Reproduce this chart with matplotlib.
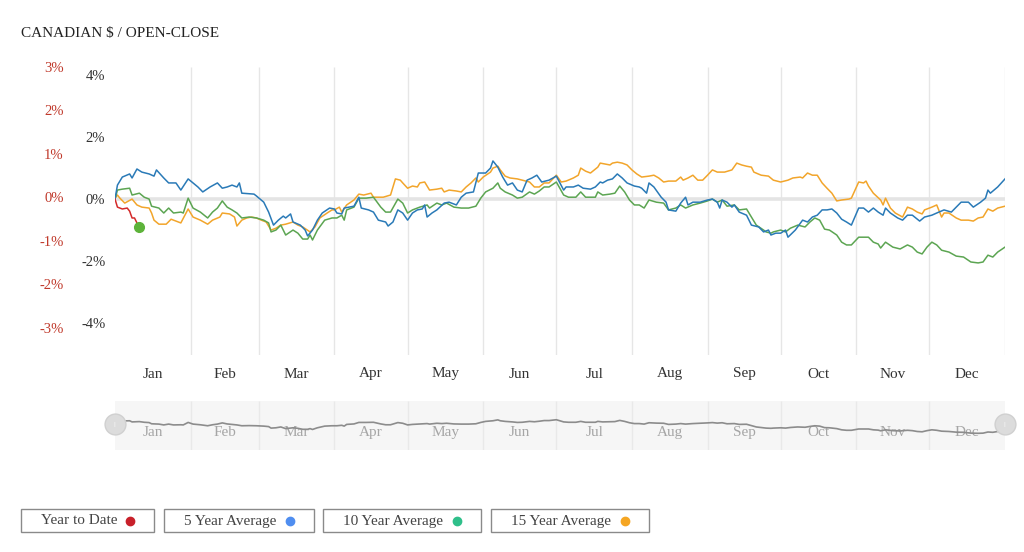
import numpy as np
import matplotlib.pyplot as plt
import matplotlib.transforms as mtransforms
from matplotlib.patches import Rectangle

plt.rcParams["font.family"] = ["Liberation Serif", "DejaVu Serif"]

# month labels and month boundaries (day of year)
months = ["Jan", "Feb", "Mar", "Apr", "May", "Jun",
          "Jul", "Aug", "Sep", "Oct", "Nov", "Dec"]
month_starts = [0, 31, 59, 90, 120, 151, 181, 212, 243, 273, 304, 334, 365]

# left (black) and outer (red) axis ticks
black_ticks = [-4, -2, 0, 2, 4]
red_ticks = [-3, -2, -1, 0, 1, 2, 3]

# Year to date
ytd_day = [0, 1, 3, 5, 6, 7, 8, 9, 10]
ytd_val = [0.0, -0.26, -0.32, -0.29, -0.39, -0.61, -0.61, -0.77, -0.90]

# 5 year average
avg5_day = [0, 1, 3, 6, 7, 9, 11, 14, 16, 17, 20, 22, 25, 27, 30, 32, 34, 36, 39, 42,
            44, 46, 48, 50, 51, 52, 57, 58, 61, 63, 65, 67, 69, 70, 72, 73, 76, 78, 79, 81,
            83, 85, 88, 90, 91, 93, 94, 98, 100, 101, 104, 106, 108, 111, 112, 114, 116, 118, 120, 122,
            124, 126, 127, 128, 130, 132, 135, 137, 140, 142, 144, 147, 149, 152, 154, 155, 157, 159, 161, 163,
            165, 167, 169, 171, 173, 175, 178, 181, 184, 185, 188, 190, 192, 195, 197, 199, 200, 202, 204, 206,
            208, 210, 213, 215, 216, 218, 219, 221, 224, 226, 227, 230, 232, 234, 235, 237, 240, 243, 245, 247,
            248, 249, 251, 253, 254, 256, 259, 261, 264, 266, 268, 269, 271, 273, 275, 276, 279, 282, 284, 286,
            288, 290, 292, 294, 296, 298, 300, 302, 305, 307, 309, 311, 313, 315, 316, 318, 321, 323, 325, 327,
            330, 332, 335, 337, 340, 343, 345, 347, 350, 352, 355, 357, 358, 359, 362, 365]
avg5_val = [0.0, 0.45, 0.71, 0.81, 0.68, 0.97, 0.87, 0.81, 0.74, 0.94, 0.68, 0.52, 0.52, 0.29, 0.65, 0.52, 0.39, 0.23, 0.39, 0.52,
            0.35, 0.39, 0.45, 0.39, 0.52, 0.19, 0.16, 0.10, -0.10, -0.42, -0.84, -0.68, -0.55, -0.61, -0.48, -0.74, -0.84, -1.00, -1.19, -1.00,
            -0.68, -0.45, -0.29, -0.32, -0.45, -0.48, -0.29, -0.23, 0.06, -0.29, -0.35, -0.42, -0.68, -0.74, -0.87, -0.74, -0.35, -0.45, -0.68, -0.45,
            -0.35, -0.32, -0.19, -0.58, -0.45, -0.35, -0.13, -0.10, -0.19, 0.06, 0.19, 0.23, 0.84, 0.84, 1.00, 1.23, 1.03, 0.71, 0.45, 0.52,
            0.29, 0.23, 0.61, 0.68, 0.77, 0.55, 0.61, 0.74, 0.29, 0.39, 0.39, 0.45, 0.35, 0.32, 0.39, 0.55, 0.52, 0.61, 0.65, 0.81,
            0.68, 0.52, 0.42, 0.39, 0.35, 0.19, 0.52, 0.39, 0.06, -0.10, -0.35, -0.39, -0.13, 0.06, -0.19, -0.10, -0.10, -0.03, 0.00, -0.10,
            -0.29, -0.03, -0.10, -0.26, -0.19, -0.42, -0.52, -0.84, -0.90, -1.06, -1.00, -1.16, -1.10, -1.10, -1.00, -1.23, -1.00, -0.68, -0.74, -0.58,
            -0.52, -0.35, -0.35, -0.32, -0.45, -0.65, -0.74, -0.84, -0.29, -0.29, -0.42, -0.29, -0.42, -0.52, -0.29, -0.45, -0.61, -0.68, -0.52, -0.52,
            -0.71, -0.58, -0.52, -0.45, -0.35, -0.42, -0.26, -0.10, -0.10, -0.26, -0.10, 0.03, 0.29, 0.19, 0.39, 0.65]

# 10 year average
avg10_day = [0, 1, 3, 6, 7, 10, 12, 14, 15, 18, 20, 22, 24, 27, 28, 30, 32, 35, 38, 40,
             42, 44, 46, 48, 50, 52, 55, 58, 61, 63, 64, 66, 68, 70, 73, 75, 77, 79, 80, 81,
             83, 86, 89, 91, 93, 94, 95, 98, 100, 103, 106, 109, 111, 113, 116, 118, 120, 122, 125, 128,
             129, 132, 134, 136, 139, 142, 145, 148, 150, 152, 155, 157, 158, 160, 163, 165, 167, 170, 172, 174,
             176, 178, 181, 184, 186, 189, 191, 193, 197, 198, 200, 203, 205, 207, 209, 211, 213, 215, 217, 219,
             222, 225, 227, 230, 232, 234, 237, 240, 243, 245, 247, 249, 251, 254, 256, 259, 261, 263, 266, 267,
             269, 270, 273, 275, 277, 280, 283, 285, 287, 289, 291, 293, 296, 298, 300, 302, 305, 307, 309, 311,
             313, 314, 316, 319, 322, 325, 327, 329, 331, 333, 335, 337, 339, 342, 345, 348, 351, 354, 356, 358,
             360, 362, 365]
avg10_val = [0.0, 0.29, 0.32, 0.35, 0.13, 0.19, 0.06, 0.00, -0.23, -0.29, -0.45, -0.29, -0.45, -0.42, -0.45, 0.03, -0.29, -0.42, -0.61, -0.42,
             -0.29, -0.06, -0.26, -0.35, -0.45, -0.61, -0.58, -0.61, -0.68, -0.77, -1.06, -1.00, -0.84, -1.16, -1.00, -1.10, -1.29, -1.29, -1.16, -1.32,
             -1.00, -0.68, -0.61, -0.61, -0.52, -0.68, -0.35, -0.26, 0.03, 0.03, 0.06, -0.26, -0.42, -0.42, 0.00, -0.13, -0.45, -0.35, -0.26, -0.19,
             -0.29, -0.13, -0.19, -0.13, -0.26, -0.29, -0.29, -0.23, 0.03, 0.23, 0.35, 0.52, 0.35, 0.23, 0.13, 0.03, 0.06, 0.23, 0.16, 0.26,
             0.39, 0.39, 0.55, 0.13, 0.06, 0.06, 0.23, 0.06, 0.06, 0.23, 0.13, 0.16, 0.19, 0.42, 0.23, -0.03, -0.19, -0.19, -0.29, -0.03,
             -0.10, -0.13, -0.35, -0.29, -0.19, -0.29, -0.19, -0.13, -0.06, 0.00, -0.10, -0.03, -0.23, -0.19, -0.35, -0.32, -0.58, -0.84, -1.00, -1.06,
             -1.10, -1.06, -1.00, -1.06, -0.94, -0.84, -0.90, -0.74, -0.61, -0.68, -0.97, -1.00, -1.16, -1.39, -1.48, -1.48, -1.23, -1.23, -1.23, -1.39,
             -1.45, -1.58, -1.39, -1.55, -1.61, -1.48, -1.55, -1.71, -1.77, -1.55, -1.39, -1.48, -1.65, -1.71, -1.84, -1.87, -2.03, -2.06, -2.03, -1.81,
             -1.87, -1.71, -1.55]

# 15 year average
avg15_day = [0, 1, 2, 4, 7, 9, 11, 14, 15, 16, 18, 21, 23, 25, 27, 30, 32, 35, 38, 40,
             43, 44, 47, 49, 50, 52, 54, 56, 58, 60, 62, 64, 66, 68, 70, 73, 75, 77, 80, 82,
             84, 87, 89, 90, 92, 93, 95, 98, 100, 102, 105, 106, 108, 110, 113, 115, 117, 118, 120, 122,
             124, 125, 127, 129, 132, 134, 135, 137, 140, 142, 144, 146, 148, 149, 151, 154, 155, 157, 158, 160,
             162, 165, 167, 170, 172, 174, 176, 178, 181, 183, 185, 188, 190, 191, 193, 195, 198, 199, 201, 203,
             204, 206, 208, 210, 212, 214, 216, 219, 221, 223, 225, 227, 230, 232, 233, 235, 237, 239, 241, 243,
             245, 247, 250, 253, 255, 257, 259, 261, 262, 265, 268, 270, 273, 276, 278, 281, 282, 284, 286, 288,
             290, 292, 294, 296, 298, 301, 302, 305, 307, 308, 309, 311, 314, 315, 316, 318, 320, 323, 325, 327,
             329, 331, 332, 335, 337, 339, 340, 342, 345, 347, 350, 352, 354, 356, 358, 360, 362, 365]
avg15_val = [0.03, 0.13, 0.03, -0.13, 0.00, -0.19, -0.26, -0.29, -0.45, -0.68, -0.81, -0.81, -0.65, -0.71, -0.77, -0.32, -0.58, -0.68, -0.81, -0.68,
             -0.58, -0.45, -0.48, -0.58, -0.87, -0.68, -0.61, -0.58, -0.61, -0.68, -0.74, -1.00, -0.94, -0.84, -0.81, -0.74, -0.84, -0.90, -1.06, -0.90,
             -0.61, -0.45, -0.35, -0.35, -0.26, -0.42, -0.19, -0.03, 0.16, 0.13, 0.19, 0.06, 0.06, 0.06, 0.13, 0.65, 0.61, 0.52, 0.35, 0.42,
             0.39, 0.52, 0.55, 0.29, 0.32, 0.35, 0.23, 0.29, 0.26, 0.23, 0.39, 0.52, 0.68, 0.55, 0.71, 0.87, 1.00, 1.06, 0.94, 0.74,
             0.68, 0.65, 0.61, 0.55, 0.39, 0.39, 0.52, 0.52, 0.77, 0.55, 0.58, 0.68, 0.77, 1.00, 0.90, 0.84, 1.03, 1.16, 1.13, 1.10,
             1.16, 1.19, 1.16, 1.10, 0.94, 0.81, 0.71, 0.74, 0.77, 0.68, 0.55, 0.58, 0.58, 0.71, 0.61, 0.68, 0.77, 0.61, 0.61, 0.77,
             0.94, 0.87, 0.87, 0.94, 1.16, 1.10, 1.06, 1.03, 0.87, 0.77, 0.74, 0.61, 0.55, 0.61, 0.68, 0.71, 0.68, 0.84, 0.77, 0.77,
             0.52, 0.35, 0.19, -0.06, -0.03, 0.00, 0.03, 0.55, 0.52, 0.58, 0.42, 0.19, -0.03, -0.19, 0.03, -0.29, -0.45, -0.58, -0.26, -0.32,
             -0.42, -0.48, -0.35, -0.26, -0.19, -0.58, -0.45, -0.45, -0.61, -0.68, -0.68, -0.71, -0.61, -0.58, -0.32, -0.39, -0.29, -0.23]

legend_labels = ["Year to Date", "5 Year Average", "10 Year Average", "15 Year Average"]
legend_dot_colors = ["#c8202a", "#4f8ef0", "#2fbf8a", "#f5a623"]

c_blue = "#2a7ab7"
c_green = "#5ca552"
c_orange = "#f2a52b"
c_red = "#d42a2a"

W, H = 1024, 552
fig = plt.figure(figsize=(W / 100, H / 100), dpi=100)


def fx(px):
    return px / W


def fy(py):
    return 1 - py / H


# main axes: plot area spans px 115..1005, 67..355
ax = fig.add_axes([fx(115), fy(355), fx(1005) - fx(115), fy(67) - fy(355)])
ax.set_xlim(0, 365)
ax.set_ylim(-5.03, 4.26)
for s in ax.spines.values():
    s.set_visible(False)

ax.vlines(month_starts[1:], -5.03, 4.26, color="#e6e6e6", lw=1, zorder=0)
ax.axhline(0, color="#e4e4e4", lw=2.6, zorder=0)

ax.plot(avg5_day, avg5_val, color=c_blue, lw=1.1, zorder=3)
ax.plot(avg10_day, avg10_val, color=c_green, lw=1.1, zorder=2)
ax.plot(avg15_day, avg15_val, color=c_orange, lw=1.1, zorder=1)
ax.plot(ytd_day, ytd_val, color=c_red, lw=1.1, zorder=4)
ax.plot(ytd_day[-1:], ytd_val[-1:], "o", color="#5db33a", ms=7, zorder=5)

mids = [(month_starts[i] + month_starts[i + 1]) / 2 for i in range(12)]
ax.set_xticks(mids)
ax.set_xticklabels(months, fontsize=11, color="#333333")
ax.set_yticks(black_ticks)
ax.set_yticklabels([f"{t}%" for t in black_ticks], fontsize=10.5, color="#333333")
ax.tick_params(axis="x", length=0, pad=9)
ax.tick_params(axis="y", length=0, pad=7)

# outer red percentage axis
ax_red = ax.twinx()
ax_red.set_ylim(-3.63, 2.99)
ax_red.yaxis.tick_left()
ax_red.set_yticks(red_ticks)
ax_red.set_yticklabels([f"{t}%" for t in red_ticks], fontsize=10.5, color="#c0392b")
ax_red.tick_params(axis="y", length=0, pad=37)
for s in ax_red.spines.values():
    s.set_visible(False)

fig.text(fx(21), fy(33), "CANADIAN $ / OPEN-CLOSE", fontsize=11, color="#222222",
         va="center", ha="left")

# navigator
nav = fig.add_axes([fx(115), fy(450), fx(1005) - fx(115), fy(401) - fy(450)])
nav.set_facecolor("#f6f6f6")
nav.set_xlim(0, 365)
nav.set_ylim(-5.27, 4.15)
for s in nav.spines.values():
    s.set_visible(False)
nav.set_xticks([])
nav.set_yticks([])
nav.vlines(month_starts[1:-1], -5.27, 4.15, color="#e9e9e9", lw=1, zorder=0)
nav.plot(avg10_day, avg10_val, color="#8c8c8c", lw=1.2, zorder=3)
trans = mtransforms.blended_transform_factory(nav.transData, nav.transAxes)
for m, lab in zip(mids, months):
    nav.text(m, 0.35, lab, transform=trans, ha="center", va="center",
             fontsize=11, color="#a6a6a6", zorder=2)
nav.plot([0, 365], [0.53, 0.53], transform=trans, ls="none", marker="o", ms=15,
         mfc="#dcdcdc", mec="#d0d0d0", clip_on=False, zorder=5)
for xe in [0, 365]:
    nav.text(xe, 0.53, "||", transform=trans, ha="center", va="center",
             fontsize=5, color="#f4f4f4", zorder=6, clip_on=False)

# legend boxes
overlay = fig.add_axes([0, 0, 1, 1])
overlay.set_xlim(0, W)
overlay.set_ylim(H, 0)
overlay.axis("off")
overlay.patch.set_alpha(0)
box_x = [(21, 154), (164, 314), (323, 481), (491, 649)]
for (x0, x1), lab, col in zip(box_x, legend_labels, legend_dot_colors):
    overlay.add_patch(Rectangle((x0, 509), x1 - x0, 23, fill=True, fc="white",
                                ec="#8a8a8a", lw=1))
    overlay.text(x0 + 20, 521, lab, fontsize=11, color="#444444", va="center", ha="left")
    overlay.plot([x1 - 24], [521], "o", color=col, ms=6)

fig.savefig("out.png", dpi=100)
